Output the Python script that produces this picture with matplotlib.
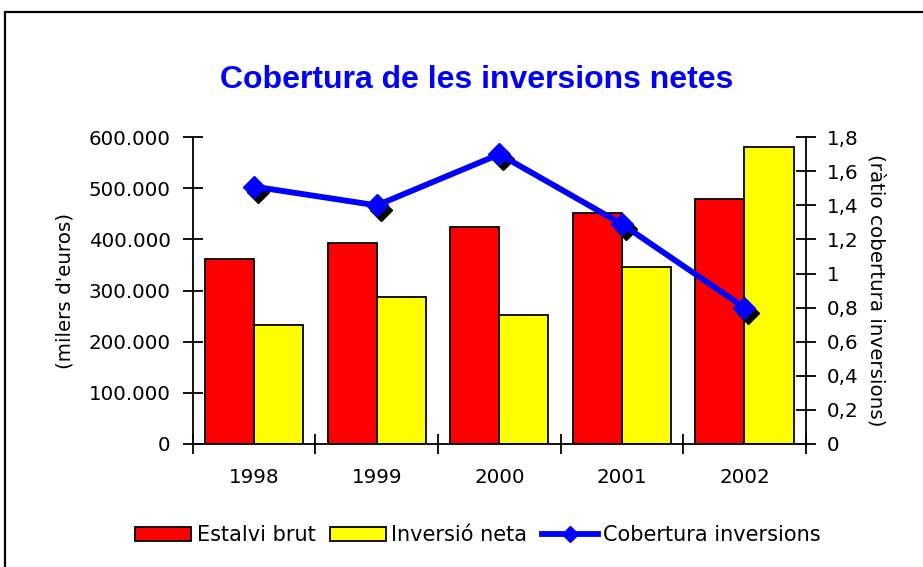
import matplotlib

matplotlib.use("Agg")
import matplotlib.pyplot as plt
import matplotlib.transforms as mtransforms
from matplotlib.lines import Line2D
from matplotlib.patches import Patch, Rectangle
from matplotlib.ticker import FixedLocator, FuncFormatter

years = ["1998", "1999", "2000", "2001", "2002"]
estalvi_brut = [362000, 393000, 424000, 452000, 479000]
inversio_neta = [233000, 288000, 253000, 346000, 581000]
cobertura = [1.51, 1.40, 1.70, 1.29, 0.80]

RED = "#FF0000"
YELLOW = "#FFFF00"
BLUE = "#0000FF"
FS = 14.3


def thousands(v, pos):
    return f"{int(round(v)):,}".replace(",", ".")


def comma_dec(v, pos):
    return f"{v:g}".replace(".", ",")


fig = plt.figure(figsize=(9.23, 5.67), dpi=100)
fig.patches.append(
    Rectangle((0.0054, -0.05), 1.2, 1.029, transform=fig.transFigure,
              fill=False, edgecolor="black", linewidth=1.6)
)

ax = fig.add_axes([0.209, 0.217, 0.664, 0.541])
x = list(range(len(years)))
w = 0.4
ax.bar([i - w / 2 for i in x], estalvi_brut, width=w, color=RED,
       edgecolor="black", linewidth=1.3, zorder=2)
ax.bar([i + w / 2 for i in x], inversio_neta, width=w, color=YELLOW,
       edgecolor="black", linewidth=1.3, zorder=2)
ax.set_xlim(-0.5, len(years) - 0.5)
ax.set_ylim(0, 600000)
ax.set_yticks(range(0, 600001, 100000))
ax.yaxis.set_major_formatter(FuncFormatter(thousands))
ax.set_xticks(x, years)
ax.xaxis.set_minor_locator(FixedLocator([i - 0.5 for i in range(len(years) + 1)]))
ax.tick_params(axis="x", which="major", length=0, pad=17, labelsize=FS)
ax.tick_params(axis="x", which="minor", direction="inout", length=14, width=1.3)
ax.tick_params(axis="y", direction="inout", length=14, width=1.3, labelsize=FS, pad=9)
for side in ["top", "right"]:
    ax.spines[side].set_visible(False)
for side in ["left", "bottom"]:
    ax.spines[side].set_linewidth(1.3)
ax.set_ylabel("(milers d'euros)", fontsize=FS)
ax.yaxis.label.set(va="center", ha="center", rotation_mode="default")
ax.yaxis.set_label_coords(-0.209, 0.5)

ax2 = ax.twinx()
ax2.set_ylim(0, 1.8)
ax2.set_yticks([i / 5 for i in range(10)])
ax2.yaxis.set_major_formatter(FuncFormatter(comma_dec))
ax2.tick_params(axis="y", direction="inout", length=14, width=1.3, labelsize=FS, pad=8)
for side in ["top", "left", "bottom"]:
    ax2.spines[side].set_visible(False)
ax2.spines["right"].set_linewidth(1.3)
ax2.set_ylabel("(ràtio cobertura inversions)", fontsize=FS, rotation=-90)
ax2.yaxis.label.set(va="center", ha="center", rotation_mode="default")
ax2.yaxis.set_label_coords(1.114, 0.5)

# black diamond "shadow" slightly offset down-right, as in the Excel original
shadow = mtransforms.offset_copy(ax2.transData, fig=fig, x=4, y=-5, units="dots")
ax2.plot(x, cobertura, linestyle="none", marker="D", markersize=11,
         color="black", transform=shadow, zorder=3)
ax2.plot(x, cobertura, color=BLUE, linewidth=4.2, marker="D", markersize=11,
         zorder=4)

fig.text(0.516, 0.859, "Cobertura de les inversions netes", ha="center",
         va="center", fontsize=23, fontweight="bold", color=BLUE,
         family="Liberation Sans")

handles = [
    Patch(facecolor=RED, edgecolor="black", linewidth=1.3),
    Patch(facecolor=YELLOW, edgecolor="black", linewidth=1.3),
    Line2D([], [], color=BLUE, linewidth=4.2, marker="D", markersize=8),
]
fig.legend(handles, ["Estalvi brut", "Inversió neta", "Cobertura inversions"],
           loc="center", bbox_to_anchor=(0.518, 0.056), ncol=3, frameon=False,
           fontsize=15, handlelength=2.7, handleheight=0.6, handletextpad=0.25,
           columnspacing=0.7)

fig.savefig("out.png", dpi=100)
